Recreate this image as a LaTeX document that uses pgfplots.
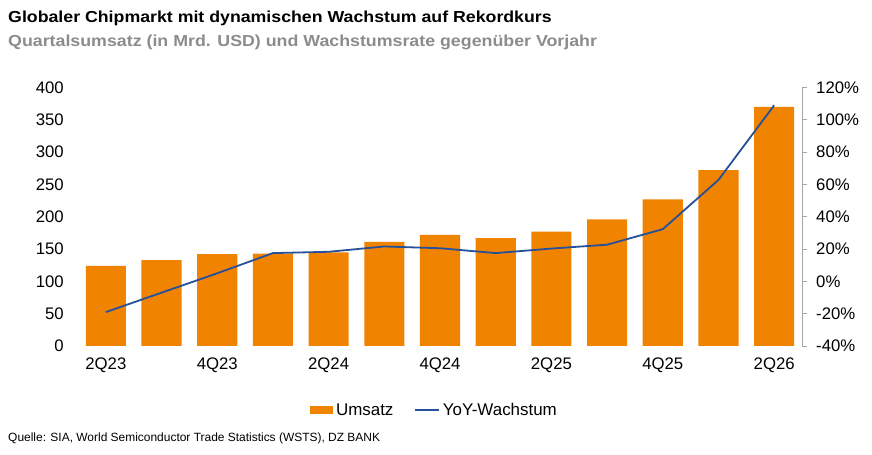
\documentclass[border=0pt]{standalone}
\usepackage{pgfplots}
\pgfplotsset{compat=1.18}
\usepackage{fontspec}
\setmainfont{Liberation Sans}
\definecolor{barorange}{HTML}{F08300}
\definecolor{linenavy}{HTML}{27509A}
\definecolor{subgray}{HTML}{8C8C8C}
\definecolor{axgray}{HTML}{A6A6A6}
\pgfplotstableread{
x umsatz yoy
0 124 -19
1 133 -7
2 142 5
3 143 17.5
4 145 18.3
5 161 21.6
6 172 20.5
7 167 17.5
8 177 20.3
9 196 22.7
10 227 32.3
11 272 62.8
12 370 109
}\datatable
\begin{document}
\begin{tikzpicture}[x=1bp,y=1bp]
\path[use as bounding box] (0,0) rectangle (872,455);
\node[anchor=base west,inner sep=0pt,font=\fontsize{16}{19}\selectfont\bfseries] at (8,432.5) {\scalebox{1.113}[1]{Globaler Chipmarkt mit dynamischen Wachstum auf Rekordkurs}};
\node[anchor=base west,inner sep=0pt,font=\fontsize{16}{19}\selectfont\bfseries,text=subgray] at (8,408.5) {\scalebox{1.116}[1]{Quartalsumsatz (in Mrd. USD) und Wachstumsrate gegenüber Vorjahr}};
\node[anchor=base west,inner sep=0pt,font=\fontsize{12}{14}\selectfont] at (8,13) {Quelle: SIA, World Semiconductor Trade Statistics (WSTS), DZ BANK};
\begin{axis}[
  at={(78bp,109bp)}, anchor=south west,
  scale only axis, width=724bp, height=258.5bp,
  xmin=-0.5, xmax=12.5, ymin=0, ymax=400,
  ytick={0,50,...,400},
  xtick={0,2,4,6,8,10,12},
  xticklabels={2Q23,4Q23,2Q24,4Q24,2Q25,4Q25,2Q26},
  axis line style={draw=none},
  major tick length=0pt,
  /pgf/number format/assume math mode=true,
  tick label style={font=\fontsize{16.8}{19}\selectfont, text=black},
  yticklabel style={inner sep=0pt, anchor=east, xshift=-14bp},
  xticklabel style={inner sep=0pt, anchor=north, yshift=-12bp},
  legend style={draw=none, fill=none, at={(0.493,-0.2476)}, anchor=center,
    font=\fontsize{17}{19}\selectfont, legend columns=2,
    /tikz/every even column/.append style={column sep=18bp},
    inner sep=0pt, nodes={inner xsep=3bp, inner ysep=0pt}},
  legend cell align=left,
]
\addplot[ybar, bar width=0.72, fill=barorange, draw=none,
  area legend,
  legend image code/.code={\fill[barorange] (0bp,-3.7bp) rectangle (23bp,3.7bp);}]
  table[x=x,y=umsatz]{\datatable};
\addlegendentry{Umsatz}
\addlegendimage{linenavy, line width=1.5bp, legend image code/.code={\draw[linenavy,line width=1.5bp] (0bp,0bp) -- (24bp,0bp);}}
\addlegendentry{YoY-Wachstum}
\end{axis}
\begin{axis}[
  at={(78bp,109bp)}, anchor=south west,
  scale only axis, width=724bp, height=258.5bp,
  xmin=-0.5, xmax=12.5, ymin=-40, ymax=120,
  ytick={-40,-20,...,120},
  axis y line*=right, axis x line=none,
  y axis line style={draw=axgray, line width=0.8bp},
  ytick style={draw=axgray, line width=0.8bp},
  major tick length=5bp,
  tick align=outside,
  yticklabel={\pgfmathprintnumber{\tick}\%},
  /pgf/number format/assume math mode=true,
  tick label style={font=\fontsize{16.8}{19}\selectfont, text=black},
  yticklabel style={inner sep=0pt, anchor=west, xshift=9bp},
]
\addplot[linenavy, line width=1.8bp, mark=none] table[x=x,y=yoy]{\datatable};
\end{axis}
\end{tikzpicture}
\end{document}
